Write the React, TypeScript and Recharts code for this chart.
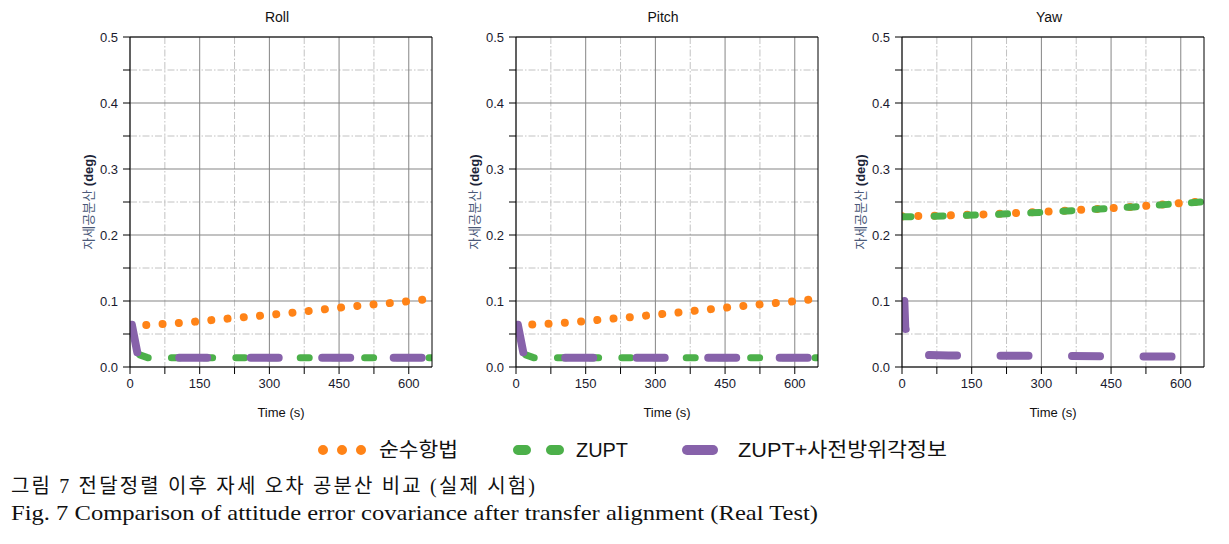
import React from 'react';
import { LineChart, Line, XAxis, YAxis, CartesianGrid } from 'recharts';

// ---------- axis ticks ----------
const X_TICKS = [0, 75, 150, 225, 300, 375, 450, 525, 600];
const X_MAJOR = [0, 150, 300, 450, 600];
const X_MINOR = [75, 225, 375, 525];
const Y_TICKS = [0, 0.05, 0.1, 0.15, 0.2, 0.25, 0.3, 0.35, 0.4, 0.45, 0.5];
const Y_MAJOR = [0, 0.1, 0.2, 0.3, 0.4, 0.5];
const Y_MINOR = [0.05, 0.15, 0.25, 0.35, 0.45];
const X_DOMAIN = [0, 650];
const Y_DOMAIN = [0, 0.5];

// ---------- labels ----------
const PANEL_TITLES = ['Roll', 'Pitch', 'Yaw'];
const SERIES_NAMES = ['순수항법', 'ZUPT', 'ZUPT+사전방위각정보'];
const X_LABEL = 'Time (s)';
const Y_LABEL_KO = '자세공분산 ';
const Y_LABEL_UNIT = '(deg)';
const CAPTION_KO = '그림 7 전달정렬 이후 자세 오차 공분산 비교 (실제 시험)';
const CAPTION_EN = 'Fig. 7 Comparison of attitude error covariance after transfer alignment (Real Test)';

// ---------- Roll ----------
const ROLL_INS_T = [0, 50, 100, 150, 200, 250, 300, 350, 400, 450, 500, 550, 600, 650];
const ROLL_INS_V = [0.0625, 0.0642, 0.0665, 0.0693, 0.0727, 0.0757, 0.0788, 0.0823, 0.0861, 0.0898, 0.0932, 0.0962, 0.0995, 0.1035];
const ROLL_ZUPT_T = [3, 14, 38, 100, 200, 300, 400, 500, 600, 650];
const ROLL_ZUPT_V = [0.063, 0.02, 0.0142, 0.0142, 0.0142, 0.0141, 0.0141, 0.0141, 0.0141, 0.0141];
const ROLL_HDG_T = [4, 16, 42, 100, 200, 300, 400, 500, 600, 650];
const ROLL_HDG_V = [0.064, 0.021, 0.0142, 0.0142, 0.0142, 0.0141, 0.0141, 0.0141, 0.0141, 0.0141];

// ---------- Pitch ----------
const PITCH_INS_T = [0, 50, 100, 150, 200, 250, 300, 350, 400, 450, 500, 550, 600, 650];
const PITCH_INS_V = [0.063, 0.0648, 0.0668, 0.0695, 0.0728, 0.0758, 0.0792, 0.0826, 0.0863, 0.0898, 0.0932, 0.0963, 0.0996, 0.1035];
const PITCH_ZUPT_T = [3, 14, 38, 100, 200, 300, 400, 500, 600, 650];
const PITCH_ZUPT_V = [0.063, 0.02, 0.0142, 0.0142, 0.0142, 0.0141, 0.0141, 0.0141, 0.0141, 0.0141];
const PITCH_HDG_T = [4, 16, 42, 100, 200, 300, 400, 500, 600, 650];
const PITCH_HDG_V = [0.064, 0.021, 0.0142, 0.0142, 0.0142, 0.0141, 0.0141, 0.0141, 0.0141, 0.0141];

// ---------- Yaw ----------
const YAW_INS_T = [0, 100, 200, 300, 400, 500, 600, 650];
const YAW_INS_V = [0.2283, 0.2297, 0.2317, 0.235, 0.2387, 0.2428, 0.2483, 0.2508];
const YAW_ZUPT_T = [0, 100, 200, 300, 400, 500, 600, 650];
const YAW_ZUPT_V = [0.2275, 0.229, 0.2312, 0.2343, 0.2382, 0.2426, 0.2478, 0.2505];
const YAW_HDG_T = [5, 7, 22, 100, 300, 500, 650];
const YAW_HDG_V = [0.1, 0.06, 0.0185, 0.0175, 0.0168, 0.016, 0.0155];

// ---------- styles ----------
const COLORS = ['#ff8317', '#4cb04a', '#8762aa'];
const PLOT_LEFTS = [130, 516, 902];
const PLOT_W = 302;
const PLOT_TOP = 37;
const PLOT_BOTTOM = 367;
const SANS = "'Liberation Sans', Arial, 'Noto Sans CJK KR', sans-serif";
const SERIF = "'Liberation Serif', 'Times New Roman', 'Noto Sans CJK KR', serif";

const zip = (t: number[], v: number[]) => t.map((x, i) => ({ t: x, v: v[i] }));

const PANELS = [
  { ins: zip(ROLL_INS_T, ROLL_INS_V), zupt: zip(ROLL_ZUPT_T, ROLL_ZUPT_V), hdg: zip(ROLL_HDG_T, ROLL_HDG_V) },
  { ins: zip(PITCH_INS_T, PITCH_INS_V), zupt: zip(PITCH_ZUPT_T, PITCH_ZUPT_V), hdg: zip(PITCH_HDG_T, PITCH_HDG_V) },
  { ins: zip(YAW_INS_T, YAW_INS_V), zupt: zip(YAW_ZUPT_T, YAW_ZUPT_V), hdg: zip(YAW_HDG_T, YAW_HDG_V) },
];

const isMajorY = (v: number) => Math.abs(v * 10 - Math.round(v * 10)) < 1e-6;
const yFmt = (v: number) => (isMajorY(v) ? v.toFixed(1) : '');
const xFmt = (v: number) => (v % 150 === 0 ? String(v) : '');

const tickStyle = { fill: '#1a1a2e', fontSize: 13, fontFamily: SANS };

function Panel({ index }: { index: number }) {
  const left = PLOT_LEFTS[index];
  const p = PANELS[index];
  return (
    <div style={{ position: 'absolute', left: left - 60, top: 0 }}>
      <LineChart width={60 + PLOT_W + 10} height={PLOT_BOTTOM + 30} margin={{ top: PLOT_TOP - 1, right: 9, bottom: 0, left: 0 }}>
        <CartesianGrid horizontalValues={Y_MINOR} verticalValues={X_MINOR} stroke="#c2c2c2" strokeDasharray="7 2 1.5 2" />
        <CartesianGrid horizontalValues={Y_MAJOR} verticalValues={X_MAJOR} stroke="#858585" />
        <XAxis
          type="number"
          dataKey="t"
          domain={X_DOMAIN}
          ticks={X_TICKS}
          interval={0}
          allowDataOverflow
          height={30}
          tickSize={7}
          tickMargin={5}
          tickFormatter={xFmt}
          stroke="#000"
          tick={tickStyle}
        />
        <XAxis xAxisId="top" orientation="top" type="number" domain={X_DOMAIN} ticks={X_TICKS} interval={0} height={1} tick={false} tickSize={-5} stroke="#000" />
        <YAxis
          type="number"
          domain={Y_DOMAIN}
          ticks={Y_TICKS}
          interval={0}
          allowDataOverflow
          width={60}
          tickSize={7}
          tickMargin={5}
          tickFormatter={yFmt}
          stroke="#000"
          tick={tickStyle}
        />
        <YAxis yAxisId="right" orientation="right" type="number" domain={Y_DOMAIN} ticks={Y_TICKS} interval={0} width={1} tick={false} tickSize={-5} stroke="#000" />
        <Line data={p.ins} dataKey="v" name={SERIES_NAMES[0]} type="linear" stroke={COLORS[0]} strokeWidth={8} strokeDasharray="0.01 16.29" strokeLinecap="round" dot={false} activeDot={false} isAnimationActive={false} />
        <Line data={p.zupt} dataKey="v" name={SERIES_NAMES[1]} type="linear" stroke={COLORS[1]} strokeWidth={7} strokeDasharray="9 23.2" strokeLinecap="round" dot={false} activeDot={false} isAnimationActive={false} />
        <Line data={p.hdg} dataKey="v" name={SERIES_NAMES[2]} type="linear" stroke={COLORS[2]} strokeWidth={8} strokeDasharray="28 43.5" strokeLinecap="round" dot={false} activeDot={false} isAnimationActive={false} />
      </LineChart>
    </div>
  );
}

function Overlay() {
  const midY = (PLOT_TOP + PLOT_BOTTOM) / 2;
  return (
    <svg width={1229} height={544} style={{ position: 'absolute', left: 0, top: 0, pointerEvents: 'none' }}>
      {PLOT_LEFTS.map((l, i) => (
        <g key={i}>
          <text x={l + PLOT_W / 2 - 4} y={22} textAnchor="middle" fontSize={14} fontFamily={SANS} fill="#111">{PANEL_TITLES[i]}</text>
          <text x={l + PLOT_W / 2} y={416.5} textAnchor="middle" fontSize={13} fontFamily={SANS} fill="#111">{X_LABEL}</text>
          <text transform={`translate(${l - 42},${midY}) rotate(-90)`} textAnchor="middle" dominantBaseline="central" fontSize={13} fontFamily={SANS}>
            <tspan fill="#4a5878">{Y_LABEL_KO}</tspan>
            <tspan fill="#1c2438" fontWeight="bold">{Y_LABEL_UNIT}</tspan>
          </text>
        </g>
      ))}
      {/* legend */}
      <g>
        <line x1={323} y1={450} x2={362} y2={450} stroke={COLORS[0]} strokeWidth={10} strokeLinecap="round" strokeDasharray="0.01 18.99" />
        <text x={379} y={450} dominantBaseline="central" fontSize={20} fontFamily={SANS} fill="#111" textLength={79} lengthAdjust="spacingAndGlyphs">{SERIES_NAMES[0]}</text>
        <line x1={518} y1={450} x2={560} y2={450} stroke={COLORS[1]} strokeWidth={10} strokeLinecap="round" strokeDasharray="8 25" />
        <text x={576} y={450} dominantBaseline="central" fontSize={20} fontFamily={SANS} fill="#111" textLength={52} lengthAdjust="spacingAndGlyphs">{SERIES_NAMES[1]}</text>
        <line x1={687} y1={450} x2={713} y2={450} stroke={COLORS[2]} strokeWidth={10} strokeLinecap="round" />
        <text x={738} y={450} dominantBaseline="central" fontSize={20} fontFamily={SANS} fill="#111" textLength={209} lengthAdjust="spacingAndGlyphs">{SERIES_NAMES[2]}</text>
      </g>
      {/* captions */}
      <text x={11} y={493} fontSize={20} fontFamily={SERIF} fill="#111" textLength={524} lengthAdjust="spacing">{CAPTION_KO}</text>
      <text x={11} y={520} fontSize={21} fontFamily={SERIF} fill="#111" textLength={807} lengthAdjust="spacingAndGlyphs">{CAPTION_EN}</text>
    </svg>
  );
}

export default function App() {
  return (
    <div style={{ position: 'absolute', left: 0, top: 0, width: 1229, height: 544, background: '#fff' }}>
      {PLOT_LEFTS.map((_, i) => (
        <Panel key={i} index={i} />
      ))}
      <Overlay />
    </div>
  );
}
